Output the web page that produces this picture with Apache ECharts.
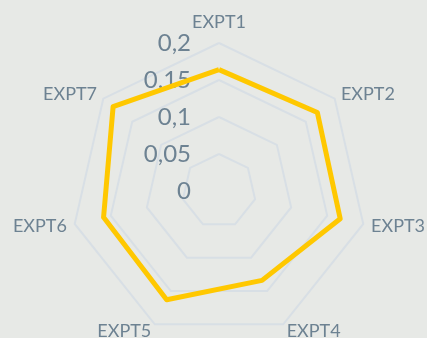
<!DOCTYPE html>
<html>
<head>
<meta charset="utf-8">
<script src="https://cdn.jsdelivr.net/npm/echarts@6/dist/echarts.min.js"></script>
<style>
  html, body { margin: 0; padding: 0; background: #e7e9e6; }
  #chart { width: 427px; height: 338px; }
</style>
</head>
<body>
<div id="chart"></div>
<script>
// Indicator names, listed clockwise from the top
const indicators = ['EXPT1', 'EXPT2', 'EXPT3', 'EXPT4', 'EXPT5', 'EXPT6', 'EXPT7'];
// Measured values per indicator
const values = [0.164, 0.170, 0.168, 0.134, 0.163, 0.160, 0.183];
// Scale of the radial axis
const axisMax = 0.2;
const axisSplits = 4;

// ECharts lays indicators out counter-clockwise, so walk the lists
// from the first entry backwards to get a clockwise layout.
const order = indicators.map((_, i) => (indicators.length - i) % indicators.length);

const chart = echarts.init(document.getElementById('chart'));

chart.setOption({
  backgroundColor: '#e7e9e6',
  animation: false,
  radar: {
    center: [219, 191],
    radius: 148,
    startAngle: 90,
    shape: 'polygon',
    splitNumber: axisSplits,
    nameGap: 8,
    axisName: {
      color: '#6d8292',
      fontFamily: 'Lato',
      fontSize: 18
    },
    axisLine: { show: false },
    axisTick: { show: false },
    splitArea: { show: false },
    splitLine: { lineStyle: { color: '#d8dfe5', width: 2 } },
    axisLabel: {
      show: false,
      color: '#6d8292',
      fontFamily: 'Lato',
      fontSize: 24,
      margin: 28,
      formatter: v => String(v).replace('.', ',')
    },
    indicator: order.map((k, i) => ({
      name: indicators[k],
      min: 0,
      max: axisMax,
      axisLabel: { show: i === 0 }
    }))
  },
  series: [{
    type: 'radar',
    symbol: 'none',
    lineStyle: { color: '#ffc800', width: 5 },
    itemStyle: { color: '#ffc800' },
    data: [{ value: order.map(k => values[k]) }]
  }]
});
</script>
</body>
</html>
